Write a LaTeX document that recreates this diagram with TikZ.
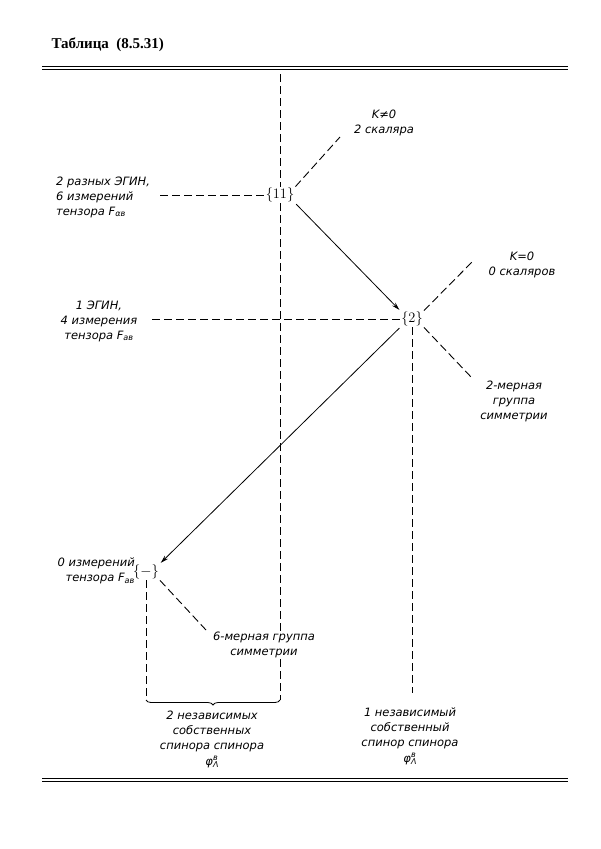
\documentclass[tikz,border=0pt]{standalone}
\usepackage{fontspec}
\newfontfamily\drwfont{DejaVu Sans}
\newfontfamily\ttlfont{Liberation Serif}
\usetikzlibrary{arrows.meta,decorations.pathreplacing}

% spinor symbol phi with sub and sup
\newcommand{\spinphi}{φ\rlap{\raisebox{5pt}{\fontsize{8}{8}\selectfont в}}\raisebox{-2.5pt}{\fontsize{8}{8}\selectfont Λ}}

\begin{document}
\begin{tikzpicture}[x=1pt, y=-1pt, > = {Stealth[length=8pt,width=4.5pt]},
  lbl/.style = {font=\drwfont\itshape\fontsize{11.5}{15}\selectfont, inner sep=1pt, align=center},
  kls/.style = {font=\fontsize{15}{18}\selectfont, inner sep=1pt},
  dsh/.style = {dash pattern=on 8pt off 4pt, line width=0.9pt},
  trans/.style = {line width=0.8pt, ->, shorten >=1pt, shorten <=1pt},
  rulepair/.style = {line width=1pt}]

    \useasboundingbox (0,0) rectangle (600,849);

    % title and rules
    \node[anchor=west, font=\ttlfont\bfseries\fontsize{15}{18}\selectfont] (ttl) at (48,45) {Таблица\ \ (8.5.31)};
    \draw[rulepair] (42,66) -- (568,66) (42,69) -- (568,69);
    \draw[rulepair] (42,778) -- (568,778) (42,781) -- (568,781);

    % classes
    \node[kls] (k11) at (280,195) {$\{11\}$};
    \node[kls] (k2) at (412,319) {$\{2\}$};
    \node[kls] (k0) at (146,572) {$\{-\}$};

    % free ends
    \coordinate (top1) at (280,74);
    \coordinate (bl) at (146,700);
    \coordinate (br) at (280,700);
    \coordinate (bot2) at (412,693);
    \coordinate (e11) at (340,137);
    \coordinate (e2a) at (472,262);
    \coordinate (e2b) at (472,378);
    \coordinate (e0) at (206,630);

    % dashed lines
    \draw[dsh] (top1) -- (k11.north);
    \draw[dsh] (k11.south) -- (br);
    \draw[dsh] (160,195) -- (k11.west);
    \draw[dsh] (k11.north east) -- (e11);
    \draw[dsh] (152,319) -- (k2.west);
    \draw[dsh] (k2.north east) -- (e2a);
    \draw[dsh] (k2.south east) -- (e2b);
    \draw[dsh] (k2.south) -- (bot2);
    \draw[dsh] (k0.south) -- (bl);
    \draw[dsh] (k0.south east) -- (e0);

    % labels
    \node[lbl, anchor=west, align=left] (l11) at (55,197) {2 разных ЭГИН,\\6 измерений\\тензора F\textsubscript{αв}};
    \node[lbl] (k11t) at (384,123) {K≠0\\2 скаляра};
    \node[lbl] (l2) at (99,321) {1 ЭГИН,\\4 измерения\\тензора F\textsubscript{ав}};
    \node[lbl] (k2t) at (522,265) {K=0\\0 скаляров};
    \node[lbl] (g2) at (514,401) {2-мерная\\группа\\симметрии};
    \node[lbl, anchor=east, align=right] (l0) at (136,571) {0 измерений\\тензора F\textsubscript{ав}};
    \node[lbl, fill=white] (g6) at (264,645) {6-мерная группа\\симметрии};
    \node[lbl] (s2) at (212,739) {2 независимых\\собственных\\спинора спинора\\[1pt]\spinphi};
    \node[lbl] (s1) at (410,736) {1 независимый\\собственный\\спинор спинора\\[1pt]\spinphi};

    % transitions
    \draw[trans] (k11.south east) -- (k2.north west);
    \draw[trans] (k2.south west) -- (k0.north east);

    % brace
    \draw[line width=0.8pt, decorate, decoration={brace, mirror, amplitude=5pt}] (bl) -- (br);

\end{tikzpicture}
\end{document}
